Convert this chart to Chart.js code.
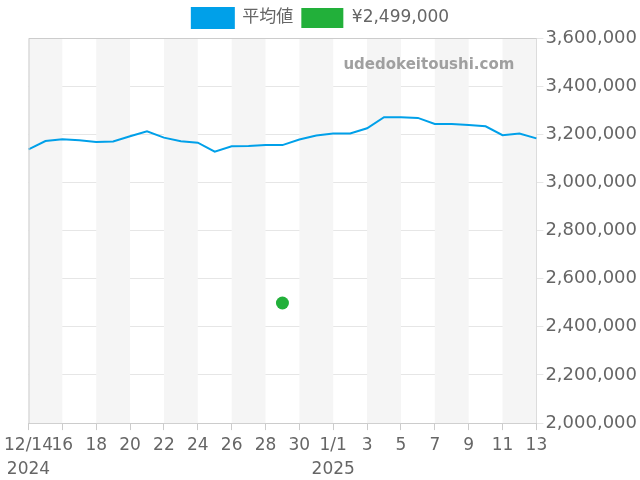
<!DOCTYPE html>
<html>
<head>
<meta charset="utf-8">
<script src="https://cdn.jsdelivr.net/npm/chart.js@4/dist/chart.umd.min.js"></script>
<style>
    html, body { margin: 0; padding: 0; background: #fff; }
    #wrap { width: 640px; height: 480px; }
</style>
</head>
<body>
<div id="wrap"><canvas id="priceChart"></canvas></div>
<script>
// daily labels 2024/12/14 .. 2025/01/13
const dateLabels = [
    '12/14', '12/15', '12/16', '12/17', '12/18', '12/19', '12/20', '12/21',
    '12/22', '12/23', '12/24', '12/25', '12/26', '12/27', '12/28', '12/29',
    '12/30', '12/31', '1/1', '1/2', '1/3', '1/4', '1/5', '1/6',
    '1/7', '1/8', '1/9', '1/10', '1/11', '1/12', '1/13'
];
const yearLabels = { '12/14': '2024', '1/1': '2025' };

const avgPrices = [
    3137000, 3172000, 3179000, 3175000, 3168000, 3170000, 3192000, 3212000,
    3186000, 3171000, 3165000, 3128000, 3150000, 3151000, 3155000, 3155000,
    3178000, 3195000, 3203000, 3203000, 3225000, 3271000, 3271000, 3268000,
    3243000, 3243000, 3239000, 3233000, 3196000, 3203000, 3183000
];

const listingDate = '12/29';
const listingPrice = 2499000;

const yTicks = { min: 2000000, max: 3600000, step: 200000 };

const fmt = v => v.toLocaleString('en-US');

// alternating grey bands every two days + frame + watermark
const bandsPlugin = {
    id: 'bands',
    beforeDatasetsDraw(chart) {
        const { ctx, chartArea } = chart;
        const x = chart.scales.x;
        ctx.save();
        ctx.fillStyle = '#f5f5f5';
        for (let i = 0; i < dateLabels.length - 1; i += 4) {
            const x0 = x.getPixelForValue(i);
            const x1 = x.getPixelForValue(Math.min(i + 2, dateLabels.length - 1));
            ctx.fillRect(x0, chartArea.top, x1 - x0, chartArea.bottom - chartArea.top);
        }
        ctx.restore();
    },
    afterDraw(chart) {
        const { ctx, chartArea } = chart;
        ctx.save();
        ctx.strokeStyle = '#cccccc';
        ctx.lineWidth = 1;
        ctx.beginPath();
        ctx.moveTo(chartArea.left + 0.5, chartArea.bottom);
        ctx.lineTo(chartArea.left + 0.5, chartArea.top + 0.5);
        ctx.lineTo(chartArea.right, chartArea.top + 0.5);
        ctx.stroke();

        ctx.font = 'bold 15px "DejaVu Sans"';
        ctx.fillStyle = 'rgba(150,150,150,0.9)';
        ctx.textAlign = 'right';
        ctx.textBaseline = 'middle';
        ctx.fillText('udedokeitoushi.com', chartArea.right - 22, chartArea.top + 27);
        ctx.restore();
    }
};

document.addEventListener('DOMContentLoaded', () => {
    const ctx = document.getElementById('priceChart').getContext('2d');

    new Chart(ctx, {
        type: 'line',
        data: {
            labels: dateLabels,
            datasets: [
                {
                    label: '平均値',
                    data: avgPrices,
                    borderColor: '#00a0e9',
                    backgroundColor: '#00a0e9',
                    borderWidth: 2,
                    pointRadius: 0,
                    tension: 0
                },
                {
                    label: '¥' + fmt(listingPrice),
                    data: [{ x: listingDate, y: listingPrice }],
                    showLine: false,
                    borderColor: '#22b03a',
                    backgroundColor: '#22b03a',
                    borderWidth: 0,
                    pointRadius: 6.5
                }
            ]
        },
        options: {
            responsive: true,
            maintainAspectRatio: false,
            animation: false,
            layout: { padding: { left: 2, right: 1, top: 0, bottom: -5 } },
            plugins: {
                legend: {
                    position: 'top',
                    labels: {
                        boxWidth: 42,
                        boxHeight: 20,
                        color: '#666',
                        padding: 8,
                        font: { family: '"DejaVu Sans", "Noto Sans CJK JP"', size: 17 }
                    }
                },
                tooltip: { enabled: false }
            },
            scales: {
                x: {
                    type: 'category',
                    offset: false,
                    grid: {
                        drawOnChartArea: false,
                        drawTicks: true,
                        tickLength: 7,
                        color: '#cccccc'
                    },
                    border: { color: '#cccccc' },
                    ticks: {
                        autoSkip: false,
                        maxRotation: 0,
                        color: '#666',
                        padding: 4,
                        font: { family: '"DejaVu Sans"', size: 17, lineHeight: 1.38 },
                        callback(value, index) {
                            if (index % 2 !== 0) return null;
                            const lbl = dateLabels[index];
                            const short = (lbl === '12/14' || lbl === '1/1') ? lbl : lbl.split('/')[1];
                            return yearLabels[lbl] ? [short, yearLabels[lbl]] : short;
                        }
                    }
                },
                y: {
                    position: 'right',
                    min: yTicks.min,
                    max: yTicks.max,
                    grid: {
                        color: '#e6e6e6',
                        tickLength: 7
                    },
                    border: { color: '#cccccc' },
                    ticks: {
                        stepSize: yTicks.step,
                        color: '#666',
                        padding: 2,
                        font: { family: '"DejaVu Sans"', size: 18 },
                        callback: v => fmt(v)
                    }
                }
            }
        },
        plugins: [bandsPlugin]
    });
});
</script>
</body>
</html>
